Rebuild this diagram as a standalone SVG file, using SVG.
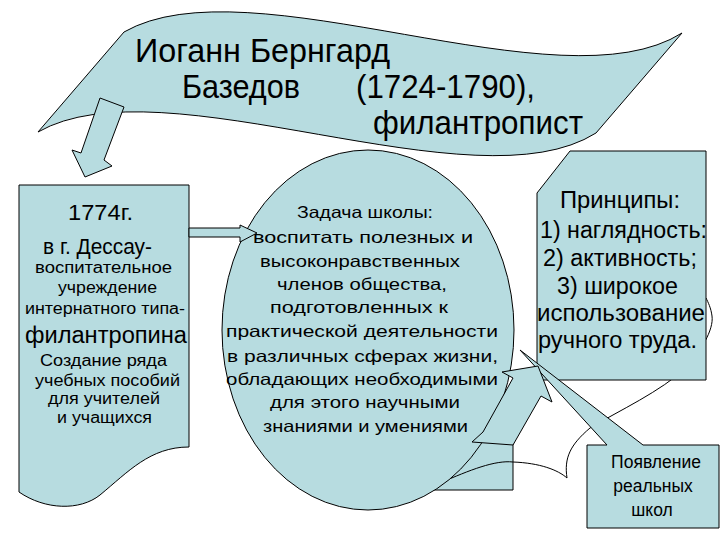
<svg xmlns="http://www.w3.org/2000/svg" width="720" height="540" viewBox="0 0 720 540">
<style>
.f{fill:#b7dce0;stroke:#000;stroke-width:1}
.o{fill:none;stroke:#000;stroke-width:1}
text{font-family:"Liberation Sans",Arial,sans-serif;fill:#000}
.t{font-size:34px}
</style>
<rect width="720" height="540" fill="#fff"/>
<g id="banner">
<path class="f" d="M124,32 C250,-40 560,110 682,33 L596,133 C474,210 164,60 38,132 Z"/>
<text class="t" x="135" y="62" textLength="255" lengthAdjust="spacingAndGlyphs">Иоганн Бернгард</text>
<text class="t" x="182" y="98" textLength="118" lengthAdjust="spacingAndGlyphs">Базедов</text>
<text class="t" x="356" y="98" textLength="179" lengthAdjust="spacingAndGlyphs">(1724-1790),</text>
<text class="t" x="373" y="134" textLength="210" lengthAdjust="spacingAndGlyphs">филантропист</text>
</g>
<g id="base-bar">
<path class="f" d="M380,400 H513 V490 H380 Z"/>
</g>
<g id="curve-shape">
<path class="o" d="M440,483 C470,470 495,460 513,462 C540,463 558,470 567,478 C564,458 570,445 590,428 C620,410 660,392 687,367 C700,352 714,330 712,316 C711,308 708,302 706,298"/>
</g>
<g id="task">
<ellipse class="f" cx="368" cy="330" rx="146" ry="180"/>
<g font-size="16.5">
<text x="297" y="218" textLength="136" lengthAdjust="spacingAndGlyphs">Задача школы:</text>
<text x="253" y="243" textLength="220" lengthAdjust="spacingAndGlyphs">воспитать полезных и</text>
<text x="260" y="267" textLength="200" lengthAdjust="spacingAndGlyphs">высоконравственных</text>
<text x="277" y="290" textLength="170" lengthAdjust="spacingAndGlyphs">членов общества,</text>
<text x="270" y="313" textLength="178" lengthAdjust="spacingAndGlyphs">подготовленных к</text>
<text x="226" y="337" textLength="272" lengthAdjust="spacingAndGlyphs">практической деятельности</text>
<text x="227" y="362" textLength="271" lengthAdjust="spacingAndGlyphs">в различных сферах жизни,</text>
<text x="226" y="385" textLength="272" lengthAdjust="spacingAndGlyphs">обладающих необходимыми</text>
<text x="270" y="408" textLength="190" lengthAdjust="spacingAndGlyphs">для этого научными</text>
<text x="263" y="432" textLength="205" lengthAdjust="spacingAndGlyphs">знаниями и умениями</text>
</g>
</g>
<g id="principles">
<path class="f" d="M570,151 H706 V380 H537 V193 Z"/>
<g font-size="23">
<text x="560" y="208" textLength="120" lengthAdjust="spacingAndGlyphs">Принципы:</text>
<text x="540" y="238" textLength="167" lengthAdjust="spacingAndGlyphs">1) наглядность:</text>
<text x="543" y="266" textLength="154" lengthAdjust="spacingAndGlyphs">2) активность;</text>
<text x="557" y="294" textLength="121" lengthAdjust="spacingAndGlyphs">3) широкое</text>
<text x="537" y="321" textLength="168" lengthAdjust="spacingAndGlyphs">использование</text>
<text x="538" y="348" textLength="159" lengthAdjust="spacingAndGlyphs">ручного труда.</text>
</g>
</g>
<g id="left-box">
<path class="f" d="M19,185 H189 V447 C150,447 128,472 100,495 C80,511 45,510 19,492 Z"/>
<text x="68" y="220" font-size="22" textLength="65" lengthAdjust="spacingAndGlyphs">1774г.</text>
<text x="43" y="254" font-size="22" textLength="109" lengthAdjust="spacingAndGlyphs">в г. Дессау-</text>
<g font-size="16">
<text x="35" y="273" textLength="137" lengthAdjust="spacingAndGlyphs">воспитательное</text>
<text x="58" y="293" textLength="99" lengthAdjust="spacingAndGlyphs">учреждение</text>
<text x="25" y="314" textLength="160" lengthAdjust="spacingAndGlyphs">интернатного типа-</text>
<text x="40" y="366" textLength="127" lengthAdjust="spacingAndGlyphs">Создание ряда</text>
<text x="35" y="386" textLength="145" lengthAdjust="spacingAndGlyphs">учебных пособий</text>
<text x="48" y="404" textLength="112" lengthAdjust="spacingAndGlyphs">для учителей</text>
<text x="57" y="423" textLength="95" lengthAdjust="spacingAndGlyphs">и учащихся</text>
</g>
<text x="25" y="343" font-size="23" textLength="162" lengthAdjust="spacingAndGlyphs">филантропина</text>
</g>
<g id="schools">
<path class="f" d="M587,445 H607 L520,350 L643,445 H719 V528 H587 Z"/>
<g font-size="17.5" text-anchor="middle">
<text x="656" y="468">Появление</text>
<text x="653" y="492">реальных</text>
<text x="652" y="516">школ</text>
</g>
</g>
<g id="connectors">
<path class="f" d="M100,98 L124,107 L104,160 L112,166 L85,177 L72,150 L81,153 Z"/>
<path class="f" d="M189,228 H240 V225 L257,233 L240,242 V237 H189 Z"/>
<path class="f" d="M472,442 L483,432 L513,378 L502,372 L538,366 L552,402 L541,396 L513,445 Z"/>
</g>
</svg>
